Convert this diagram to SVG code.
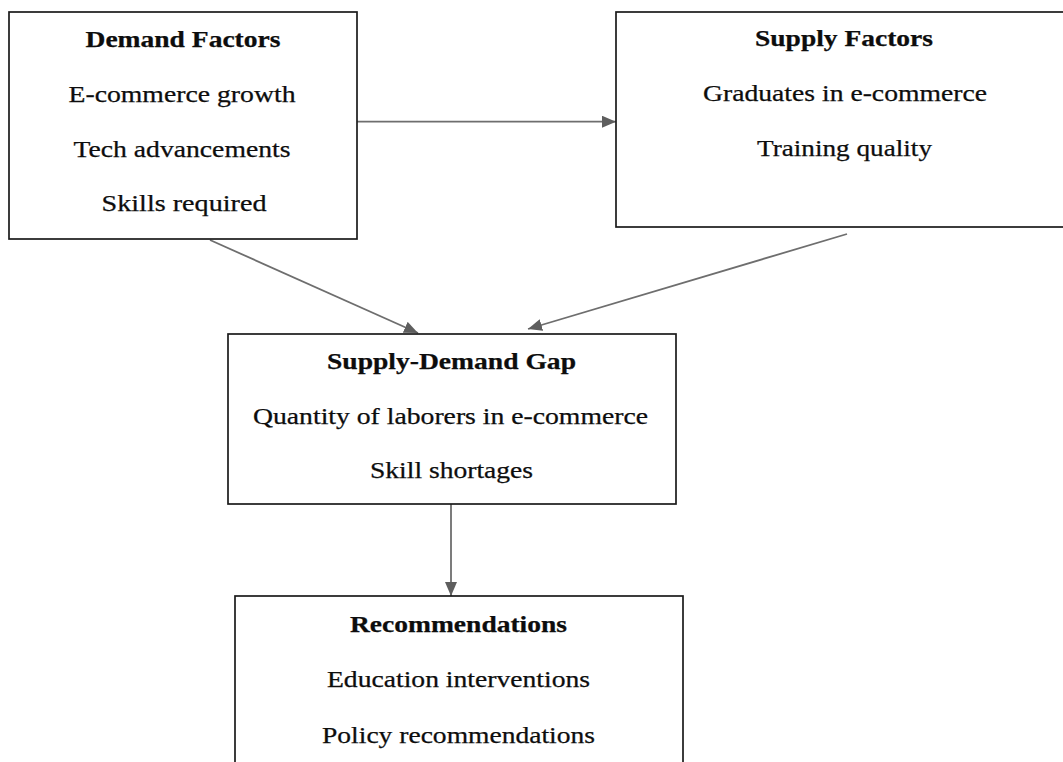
<svg xmlns="http://www.w3.org/2000/svg" width="1063" height="762" viewBox="0 0 1063 762">
  <style>
    .box { fill: #ffffff; stroke: #1a1a1a; stroke-width: 1.7; }
    .t { font-family: 'Liberation Serif', 'Times New Roman', Times, serif; font-size: 22.5px; fill: #0d0d0d; stroke: #0d0d0d; stroke-width: 0.25; text-anchor: middle; }
    .h { font-weight: bold; }
    .edge { stroke: #6e6e6e; stroke-width: 1.8; fill: none; marker-end: url(#arrow); }
  </style>
  <defs>
    <marker id="arrow" markerUnits="userSpaceOnUse" viewBox="0 0 14 12" refX="14" refY="6" markerWidth="14" markerHeight="12" orient="auto">
      <path d="M0,0 L14,6 L0,12 Z" fill="#5e5e5e"/>
    </marker>
  </defs>
  <rect width="1063" height="762" fill="#ffffff"/>

  <!-- connectors -->
  <g id="connectors">
    <line class="edge" x1="357" y1="121.7" x2="616" y2="121.7"/>
    <line class="edge" x1="210" y1="240" x2="418" y2="333"/>
    <line class="edge" x1="847" y1="234" x2="528" y2="329"/>
    <line class="edge" x1="451" y1="504" x2="451" y2="596"/>
  </g>

  <!-- demand side -->
  <g id="demand-factors">
    <rect class="box" x="9" y="12" width="348" height="227"/>
    <text class="t h" x="183" y="46.7" textLength="195" lengthAdjust="spacingAndGlyphs">Demand Factors</text>
    <text class="t" x="182" y="101.7" textLength="227" lengthAdjust="spacingAndGlyphs">E-commerce growth</text>
    <text class="t" x="182" y="156.7" textLength="217" lengthAdjust="spacingAndGlyphs">Tech advancements</text>
    <text class="t" x="184" y="210.5" textLength="165" lengthAdjust="spacingAndGlyphs">Skills required</text>
  </g>

  <!-- supply side -->
  <g id="supply-factors">
    <rect class="box" x="616" y="12" width="460" height="215"/>
    <text class="t h" x="844" y="45.7" textLength="178" lengthAdjust="spacingAndGlyphs">Supply Factors</text>
    <text class="t" x="845" y="100.7" textLength="284" lengthAdjust="spacingAndGlyphs">Graduates in e-commerce</text>
    <text class="t" x="844.5" y="155.7" textLength="175" lengthAdjust="spacingAndGlyphs">Training quality</text>
  </g>

  <!-- gap -->
  <g id="supply-demand-gap">
    <rect class="box" x="228" y="334" width="448" height="170"/>
    <text class="t h" x="451.5" y="369.3" textLength="249" lengthAdjust="spacingAndGlyphs">Supply-Demand Gap</text>
    <text class="t" x="450.5" y="424" textLength="395" lengthAdjust="spacingAndGlyphs">Quantity of laborers in e-commerce</text>
    <text class="t" x="451.5" y="478.3" textLength="163" lengthAdjust="spacingAndGlyphs">Skill shortages</text>
  </g>

  <!-- outcomes -->
  <g id="recommendations">
    <rect class="box" x="235" y="596" width="448" height="180"/>
    <text class="t h" x="458.5" y="631.7" textLength="217" lengthAdjust="spacingAndGlyphs">Recommendations</text>
    <text class="t" x="458.5" y="687.3" textLength="263" lengthAdjust="spacingAndGlyphs">Education interventions</text>
    <text class="t" x="458.5" y="742.7" textLength="273" lengthAdjust="spacingAndGlyphs">Policy recommendations</text>
  </g>
</svg>
